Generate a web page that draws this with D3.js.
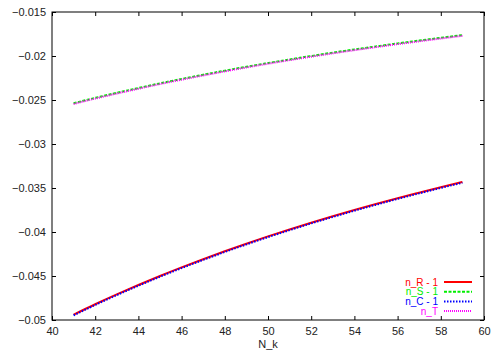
<!DOCTYPE html>
<html>
<head>
<meta charset="utf-8">
<script src="https://cdn.jsdelivr.net/npm/d3@7"></script>
<style>
  body { margin: 0; background: #fff; }
  text { font-family: "Liberation Sans", Arial, sans-serif; }
</style>
</head>
<body>
<div id="chart"></div>
<script>
// N_k values along the x axis
const nk = [41, 42, 43, 44, 45, 46, 47, 48, 49, 50, 51, 52, 53, 54, 55, 56, 57, 58, 59];

// series
const nR = [-0.04939, -0.04821, -0.04709, -0.04602, -0.04500, -0.04402, -0.04309, -0.04219, -0.04133, -0.04050,
            -0.03971, -0.03894, -0.03821, -0.03750, -0.03682, -0.03616, -0.03553, -0.03491, -0.03432];
const nC = [-0.04947, -0.04829, -0.04717, -0.04610, -0.04508, -0.04410, -0.04317, -0.04227, -0.04141, -0.04058,
            -0.03979, -0.03902, -0.03829, -0.03758, -0.03690, -0.03624, -0.03561, -0.03499, -0.03440];
const nS = [-0.02537, -0.02476, -0.02419, -0.02364, -0.02311, -0.02261, -0.02213, -0.02167, -0.02122, -0.02080,
            -0.02039, -0.02000, -0.01962, -0.01926, -0.01891, -0.01857, -0.01825, -0.01793, -0.01763];
const nT = [-0.02545, -0.02484, -0.02427, -0.02372, -0.02319, -0.02269, -0.02221, -0.02175, -0.02130, -0.02088,
            -0.02047, -0.02008, -0.01970, -0.01934, -0.01899, -0.01865, -0.01833, -0.01801, -0.01771];

const labels = ["n_R - 1", "n_S - 1", "n_C - 1", "n_T"];

const xTicks = [40, 42, 44, 46, 48, 50, 52, 54, 56, 58, 60];
const yTicks = [-0.015, -0.02, -0.025, -0.03, -0.035, -0.04, -0.045, -0.05];

const W = 500, H = 350;
const margin = {top: 12, left: 52, bottom: 30, right: 16};
const w = W - margin.left - margin.right;
const h = H - margin.top - margin.bottom;

const svg = d3.select('#chart').append('svg')
    .attr('width', W)
    .attr('height', H);

const g = svg.append('g')
    .attr('transform', `translate(${margin.left},${margin.top})`);

const x = d3.scaleLinear().domain([40, 60]).range([0, w]);
const y = d3.scaleLinear().domain([-0.05, -0.015]).range([h, 0]);

const tickLen = 4;
const fmtY = d => d3.format('')(+d.toFixed(3));

// ticks on all four sides, pointing inwards
g.append('g').attr('transform', `translate(0,${h})`)
    .call(d3.axisBottom(x).tickValues(xTicks).tickSize(-tickLen).tickPadding(7).tickFormat(d3.format('d')));
g.append('g')
    .call(d3.axisTop(x).tickValues(xTicks).tickSize(-tickLen).tickFormat(''));
g.append('g')
    .call(d3.axisLeft(y).tickValues(yTicks).tickSize(-tickLen).tickPadding(6).tickFormat(fmtY));
g.append('g').attr('transform', `translate(${w},0)`)
    .call(d3.axisRight(y).tickValues(yTicks).tickSize(-tickLen).tickFormat(''));

g.selectAll('.domain').remove();
g.selectAll('.tick line').attr('stroke', '#000').attr('stroke-width', 1);
g.selectAll('.tick text').attr('font-size', 11).attr('fill', '#222')
    .attr('font-family', '"Liberation Sans", Arial, sans-serif');

g.append('rect')
    .attr('width', w).attr('height', h)
    .attr('fill', 'none').attr('stroke', '#000').attr('stroke-width', 1);

g.append('text')
    .attr('x', w / 2).attr('y', h + 28)
    .attr('text-anchor', 'middle')
    .attr('font-size', 11).attr('fill', '#222')
    .text('N_k');

const series = [
    {vals: nR, color: '#ff0000', dash: null},
    {vals: nS, color: '#00ee00', dash: '3,1.5'},
    {vals: nC, color: '#0000ff', dash: '1.5,1.5'},
    {vals: nT, color: '#ff00ff', dash: '1,1'}
];

const line = d3.line()
    .x((d, i) => x(nk[i]))
    .y(d => y(d))
    .curve(d3.curveMonotoneX);

g.selectAll('path.series')
    .data(series)
    .join('path')
    .attr('class', 'series')
    .attr('d', d => line(d.vals))
    .attr('fill', 'none')
    .attr('stroke', d => d.color)
    .attr('stroke-width', 2)
    .attr('stroke-dasharray', d => d.dash);

// legend in lower right
const leg = g.append('g').attr('transform', `translate(${w - 40},${h - 38})`);
series.forEach((s, i) => {
    const row = leg.append('g').attr('transform', `translate(0,${i * 9.7})`);
    row.append('text')
        .attr('x', -6).attr('y', 3.5)
        .attr('text-anchor', 'end')
        .attr('font-size', 10)
        .attr('fill', s.color)
        .text(labels[i]);
    row.append('line')
        .attr('x1', 0).attr('x2', 28)
        .attr('stroke', s.color)
        .attr('stroke-width', 2)
        .attr('stroke-dasharray', s.dash);
});
</script>
</body>
</html>
